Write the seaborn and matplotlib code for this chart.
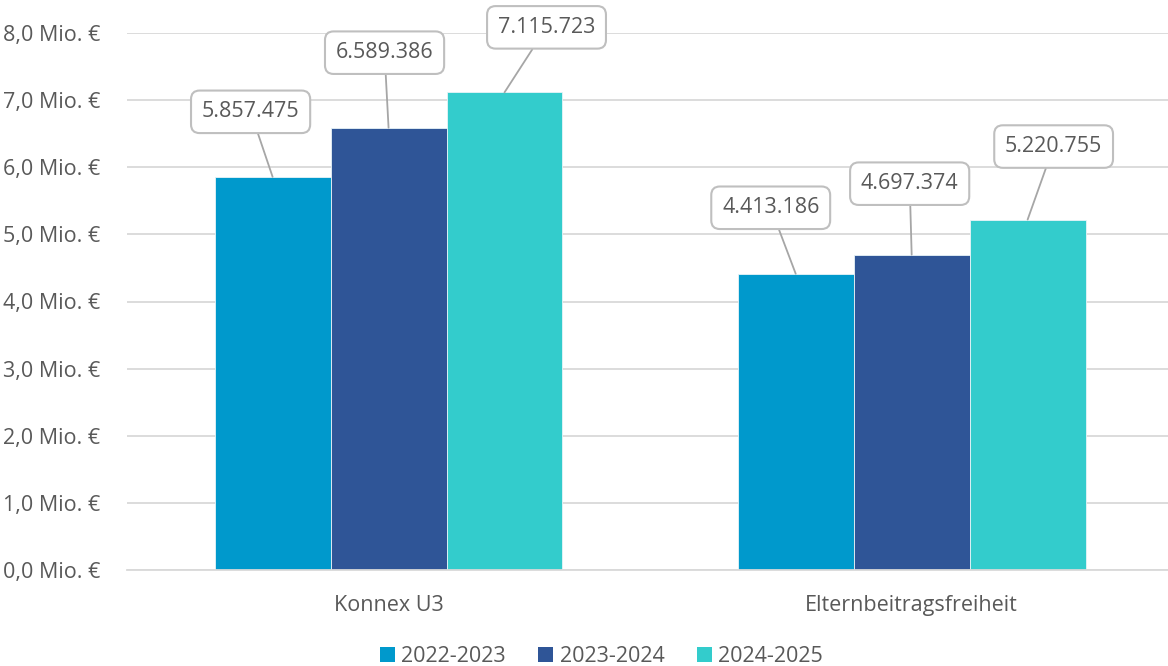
import matplotlib
matplotlib.use("Agg")
import matplotlib.pyplot as plt
import seaborn as sns
import pandas as pd
from matplotlib.ticker import FuncFormatter, MultipleLocator
from matplotlib.patches import Patch

categories = ["Konnex U3", "Elternbeitragsfreiheit"]
years = ["2022-2023", "2023-2024", "2024-2025"]
values_2022 = [5857475, 4413186]
values_2023 = [6589386, 4697374]
values_2024 = [7115723, 5220755]
colors = ["#0099CC", "#2F5597", "#33CCCC"]

rows = []
for y, vals in zip(years, [values_2022, values_2023, values_2024]):
    for c, v in zip(categories, vals):
        rows.append({"Kategorie": c, "Jahr": y, "Wert": v / 1e6})
df = pd.DataFrame(rows)

sns.set_theme(style="white")
plt.rcParams["font.family"] = ["Open Sans", "DejaVu Sans"]

fig = plt.figure(figsize=(11.68, 6.66), dpi=100)
ax = fig.add_axes([127 / 1168, 96 / 666, 1 - 127 / 1168, (570 - 33) / 666])

sns.barplot(data=df, x="Kategorie", y="Wert", hue="Jahr", order=categories,
            hue_order=years, palette=colors, width=0.665, gap=0, saturation=1,
            ax=ax, legend=False, errorbar=None, linewidth=0.6, edgecolor="#E8F4F8")

ax.set_ylim(0, 8)
ax.set_xlim(-0.5, 1.49)
ax.yaxis.set_major_locator(MultipleLocator(1))
ax.yaxis.set_major_formatter(FuncFormatter(lambda v, p: f"{v:.1f}".replace(".", ",") + " Mio. €"))
ax.grid(axis="y", color="#D9D9D9", linewidth=1.3)
ax.set_axisbelow(True)
for s in ["left", "right", "top"]:
    ax.spines[s].set_visible(False)
ax.spines["bottom"].set_color("#D9D9D9")
ax.spines["bottom"].set_linewidth(1.3)
ax.set_xlabel("")
ax.set_ylabel("")
ax.tick_params(axis="y", labelsize=15.5, colors="#595959", length=0, pad=19)
ax.tick_params(axis="x", labelsize=15.5, colors="#595959", length=0, pad=18)

# label offsets in pixels (box center relative to bar top)
offsets = [(-22, 65), (-4, 75), (42, 65), (-25, 66), (-2, 71), (26, 73)]
raw = [values_2022, values_2023, values_2024]
label_items = []
for hi, cont in enumerate(ax.containers):
    for ci, bar in enumerate(cont):
        label_items.append((ci, hi, bar, raw[hi][ci]))
label_items.sort(key=lambda t: (t[0], t[1]))
for (ci, hi, bar, v), off in zip(label_items, offsets):
    x = bar.get_x() + bar.get_width() / 2
    y = bar.get_height()
    txt = f"{v:,}".replace(",", ".")
    ax.annotate(txt, xy=(x, y), xytext=off, textcoords="offset pixels",
                ha="center", va="center", fontsize=15.5, color="#595959",
                bbox=dict(boxstyle="round,pad=0.5,rounding_size=0.4", fc="white",
                          ec="#BFBFBF", lw=1.5),
                arrowprops=dict(arrowstyle="-", color="#A6A6A6", lw=1.3,
                                shrinkA=0, shrinkB=0),
                annotation_clip=False)

handles = [Patch(facecolor=c, edgecolor="none", label=y) for c, y in zip(colors, years)]
fig.legend(handles=handles, loc="lower center", bbox_to_anchor=(0.515, -0.03), ncol=3,
           frameon=False, fontsize=15.5, labelcolor="#595959",
           handlelength=0.7, handleheight=0.7, handletextpad=0.3, columnspacing=1.5)

fig.savefig("out.png", dpi=100)
